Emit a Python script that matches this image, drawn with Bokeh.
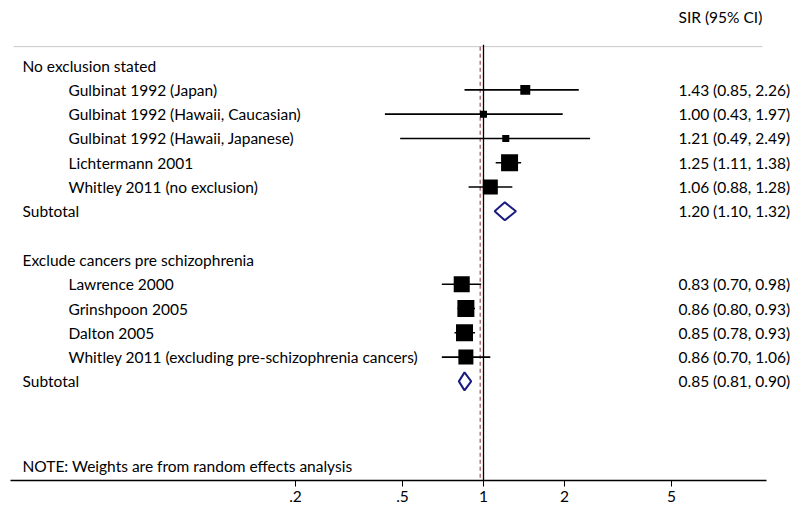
import numpy as np
from bokeh.plotting import figure
from bokeh.models import Range1d, FixedTicker, ColumnDataSource
from bokeh.core.properties import value
from bokeh.embed import file_html
from bokeh.resources import INLINE

# ---- data ----
group_labels = ["No exclusion stated", "Exclude cancers pre schizophrenia"]
study_labels = ["Gulbinat 1992 (Japan)", "Gulbinat 1992 (Hawaii, Caucasian)",
                "Gulbinat 1992 (Hawaii, Japanese)", "Lichtermann 2001",
                "Whitley 2011 (no exclusion)",
                "Lawrence 2000", "Grinshpoon 2005", "Dalton 2005",
                "Whitley 2011 (excluding pre-schizophrenia cancers)"]
study_group = [0, 0, 0, 0, 0, 1, 1, 1, 1]
sir = [1.43, 1.00, 1.21, 1.25, 1.06, 0.83, 0.86, 0.85, 0.86]
ci_lo = [0.85, 0.43, 0.49, 1.11, 0.88, 0.70, 0.80, 0.78, 0.70]
ci_hi = [2.26, 1.97, 2.49, 1.38, 1.28, 0.98, 0.93, 0.93, 1.06]
weights = [5.6, 2.8, 2.8, 16.3, 12.7, 14.5, 16.3, 16.3, 12.7]  # % (estimated)
sub_sir = [1.20, 0.85]
sub_lo = [1.10, 0.81]
sub_hi = [1.32, 0.90]
overall_sir = 0.972
tick_values = [0.2, 0.5, 1, 2, 5]
tick_labels = [".2", ".5", "1", "2", "5"]
header = "SIR (95% CI)"
note = "NOTE: Weights are from random effects analysis"

FONT = "Lato"
FS = "15.5px"

# ---- row layout ----
rows_study, rows_group, rows_sub = [], [], []
r = 0
for g in range(len(group_labels)):
    rows_group.append(r)
    r += 1
    for i, sg in enumerate(study_group):
        if sg == g:
            rows_study.append(r)
            r += 1
    rows_sub.append(r)
    r += 2

def lg(v):
    return np.log10(np.asarray(v, dtype=float))

PX = 269.0  # px per decade
x0 = -475.0 / PX
x1 = 309.0 / PX

p = figure(width=792, height=508, output_backend="svg", toolbar_location=None,
           x_range=Range1d(x0, x1), y_range=Range1d(17.08, -2.35),
           min_border_left=8, min_border_right=0, min_border_top=8,
           min_border_bottom=28)
p.outline_line_color = None
p.grid.visible = False
p.yaxis.visible = False
p.background_fill_color = "white"

ax = p.xaxis[0]
ax.ticker = FixedTicker(ticks=list(lg(tick_values)))
ax.major_label_overrides = {float(t): l for t, l in zip(lg(tick_values), tick_labels)}
ax.bounds = (-473.0 / PX, 283.0 / PX)
ax.axis_line_color = "black"
ax.axis_line_width = 1.5
ax.major_tick_in = 0
ax.major_tick_out = 6
ax.minor_tick_line_color = None
ax.major_label_text_font = FONT
ax.major_label_text_font_size = FS
ax.major_label_text_color = "black"
ax.major_label_standoff = 4

# top separator line
p.segment(x0=[-470.0 / PX], x1=[279.0 / PX], y0=[-0.78], y1=[-0.78],
          line_color="#c8c8c8", line_width=1)

# reference lines
p.segment(x0=[0], x1=[0], y0=[-0.86], y1=[17.08], line_color="black", line_width=1.3)
p.segment(x0=[np.log10(overall_sir)], x1=[np.log10(overall_sir)], y0=[-0.78], y1=[17.08],
          line_color="#a0525a", line_width=1.2, line_dash="4 3")

# CI lines
src = ColumnDataSource(dict(y=rows_study, lo=lg(ci_lo), hi=lg(ci_hi), est=lg(sir),
                            size=4.21 * np.sqrt(weights)))
p.segment(x0="lo", x1="hi", y0="y", y1="y", source=src, line_color="black", line_width=1.6)
p.scatter(x="est", y="y", size="size", marker="square", source=src,
          fill_color="black", line_color="black", line_width=0)

# diamonds
h = 0.37
xs, ys = [], []
for s, lo, hi, ry in zip(sub_sir, sub_lo, sub_hi, rows_sub):
    xs.append(list(lg([lo, s, hi, s])))
    ys.append([ry, ry - h, ry, ry + h])
p.patches(xs, ys, fill_color="white", line_color="#1a1a80", line_width=2)

# texts
tx_group = (22 - 483) / PX
tx_study = (68 - 483) / PX
tx_ci = (678 - 483) / PX
common = dict(text_font=value(FONT), text_font_size=FS, text_color="black",
              text_baseline="middle", text_align="left")
p.text(x=[tx_group] * len(rows_group), y=rows_group, text=group_labels, **common)
p.text(x=[tx_study] * len(rows_study), y=rows_study, text=study_labels, **common)
p.text(x=[tx_group] * len(rows_sub), y=rows_sub, text=["Subtotal"] * len(rows_sub), **common)
ci_txt = [f"{s:.2f} ({lo:.2f}, {hi:.2f})" for s, lo, hi in zip(sir, ci_lo, ci_hi)]
p.text(x=[tx_ci] * len(rows_study), y=rows_study, text=ci_txt, **common)
sub_txt = [f"{s:.2f} ({lo:.2f}, {hi:.2f})" for s, lo, hi in zip(sub_sir, sub_lo, sub_hi)]
p.text(x=[tx_ci] * len(rows_sub), y=rows_sub, text=sub_txt, **common)
p.text(x=[tx_ci], y=[-2.0], text=[header], **common)
p.text(x=[tx_group], y=[16.5], text=[note], **common)

open("out.html", "w").write(file_html(p, INLINE))
